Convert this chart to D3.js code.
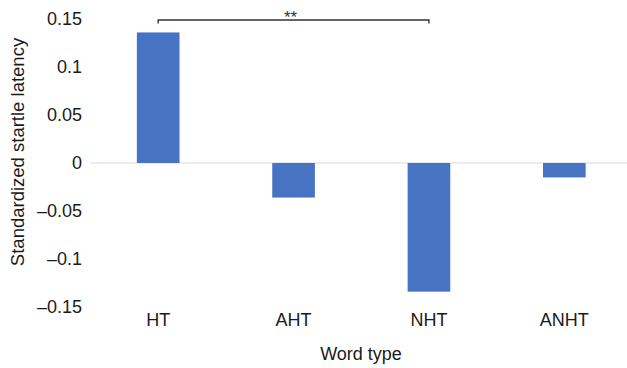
<!DOCTYPE html>
<html>
<head>
<meta charset="utf-8">
<script src="https://cdn.jsdelivr.net/npm/d3@7"></script>
<style>
  html, body { margin: 0; padding: 0; background: #fff; }
  svg { display: block; font-family: "Liberation Sans", Arial, Helvetica, sans-serif; }
</style>
</head>
<body>
<svg id="chart" width="627" height="368"></svg>
<script>
// Mean standardized startle latency by word type
const categories = ["HT", "AHT", "NHT", "ANHT"];
const latency = [0.136, -0.036, -0.134, -0.015];
const tickValues = [0.15, 0.1, 0.05, 0, -0.05, -0.1, -0.15];
const tickLabels = ["0.15", "0.1", "0.05", "0", "\u20130.05", "\u20130.1", "\u20130.15"];
const bracketPair = ["HT", "NHT"];
const bracketLabel = "**";

const svg = d3.select("#chart");

const x = d3.scaleBand()
  .domain(categories)
  .range([90.5, 632])
  .paddingInner(0.685)
  .paddingOuter(0.3425);

const y = d3.scaleLinear()
  .domain([-0.15, 0.15])
  .range([307, 19]);

// zero baseline
svg.append("line")
  .attr("x1", 90.5).attr("x2", 627)
  .attr("y1", y(0)).attr("y2", y(0))
  .attr("stroke", "#d9d9d9")
  .attr("stroke-width", 1.2);

// bars
svg.append("g")
  .selectAll("rect")
  .data(categories.map((c, i) => ({ c, v: latency[i] })))
  .join("rect")
  .attr("x", d => x(d.c))
  .attr("width", x.bandwidth())
  .attr("y", d => y(Math.max(0, d.v)))
  .attr("height", d => Math.abs(y(d.v) - y(0)))
  .attr("fill", "#4673c2");

// y axis labels
const yAxis = d3.axisLeft(y)
  .tickValues(tickValues)
  .tickFormat((d, i) => tickLabels[i])
  .tickSize(0)
  .tickPadding(0);

const gy = svg.append("g")
  .attr("transform", "translate(82,0)")
  .call(yAxis);
gy.select(".domain").remove();
gy.selectAll("text")
  .attr("font-family", "'Liberation Sans', Arial, sans-serif")
  .attr("font-size", 18)
  .attr("fill", "#1a1a1a");

// x axis labels
const xAxis = d3.axisBottom(x).tickSize(0).tickPadding(0);
const gx = svg.append("g")
  .attr("transform", "translate(0,313)")
  .call(xAxis);
gx.select(".domain").remove();
gx.selectAll("text")
  .attr("font-family", "'Liberation Sans', Arial, sans-serif")
  .attr("font-size", 18)
  .attr("fill", "#1a1a1a");

// axis titles
svg.append("text")
  .attr("x", 361).attr("y", 360)
  .attr("text-anchor", "middle")
  .attr("font-size", 18)
  .attr("fill", "#1a1a1a")
  .text("Word type");

svg.append("text")
  .attr("transform", "translate(23.5,152) rotate(-90)")
  .attr("text-anchor", "middle")
  .attr("font-size", 18.5)
  .attr("fill", "#1a1a1a")
  .text("Standardized startle latency");

// significance bracket
const bx1 = x(bracketPair[0]) + x.bandwidth() / 2;
const bx2 = x(bracketPair[1]) + x.bandwidth() / 2;
const by = 20;
svg.append("path")
  .attr("d", `M${bx1},${by + 3.5}V${by}H${bx2}V${by + 3.5}`)
  .attr("fill", "none")
  .attr("stroke", "#333")
  .attr("stroke-width", 1.4);

svg.append("text")
  .attr("x", (bx1 + bx2) / 2 - 3)
  .attr("y", by + 3)
  .attr("text-anchor", "middle")
  .attr("font-size", 17)
  .attr("fill", "#333")
  .text(bracketLabel);
</script>
</body>
</html>
